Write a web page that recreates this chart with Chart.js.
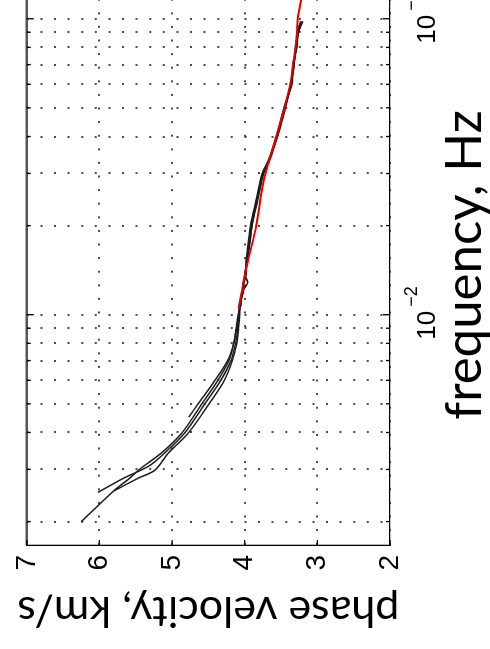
<!DOCTYPE html>
<html>
<head>
<meta charset="utf-8">
<script src="https://cdn.jsdelivr.net/npm/chart.js@4.4.1/dist/chart.umd.min.js"></script>
<style>
  html, body { margin: 0; padding: 0; background: #fff; overflow: hidden; }
  body { width: 490px; height: 649px; position: relative; }
  #wrap {
    position: absolute; left: 0; top: 0;
    width: 674px; height: 490px;
    transform-origin: 0 0;
    transform: translate(0px, 649px) rotate(-90deg);
  }
</style>
</head>
<body>
<div id="wrap"><canvas id="chart-disp" width="674" height="490"></canvas></div>
<script>
// frequency grid (log axis), Hz
const freqTicks = [0.002, 0.003, 0.004, 0.005, 0.006, 0.007, 0.008, 0.009,
  0.01, 0.02, 0.03, 0.04, 0.05, 0.06, 0.07, 0.08, 0.09, 0.1];

// red curve
const redFreq = [0.0105, 0.0119, 0.0132, 0.0154, 0.02, 0.0245, 0.03, 0.0335, 0.04, 0.05, 0.06, 0.07, 0.08, 0.09, 0.1, 0.116, 0.13];
const redVel = [4.085, 4.04, 4.01, 3.95, 3.84, 3.785, 3.715, 3.66, 3.565, 3.455, 3.375, 3.335, 3.3, 3.28, 3.27, 3.225, 3.19];

// black curves
const l1Freq = [0.002, 0.00257, 0.00278, 0.003, 0.00343, 0.004, 0.005, 0.006, 0.007, 0.008, 0.009, 0.01, 0.011, 0.0119, 0.0128, 0.0137, 0.0154, 0.0175, 0.02, 0.0245, 0.03, 0.0335, 0.04, 0.05, 0.06, 0.07, 0.08, 0.09, 0.098];
const l1Vel = [6.25, 5.78, 5.6, 5.45, 5.135, 4.86, 4.59, 4.37, 4.22, 4.15, 4.11, 4.085, 4.06, 4.03, 4.02, 3.99, 3.97, 3.94, 3.91, 3.83, 3.75, 3.66, 3.56, 3.45, 3.36, 3.33, 3.29, 3.27, 3.23];

const l2Freq = [0.00251, 0.0028, 0.00308, 0.00343, 0.004, 0.005, 0.006, 0.007, 0.008, 0.009, 0.01, 0.011, 0.0119, 0.0128, 0.0137, 0.0154, 0.0175, 0.02, 0.0245, 0.03, 0.0335, 0.04, 0.05, 0.06, 0.07, 0.08, 0.09, 0.098];
const l2Vel = [6.02, 5.67, 5.32, 5.09, 4.82, 4.55, 4.33, 4.19, 4.125, 4.098, 4.08, 4.05, 4.04, 3.96, 4.0, 3.96, 3.93, 3.9, 3.82, 3.74, 3.65, 3.55, 3.44, 3.37, 3.32, 3.3, 3.26, 3.2];

const l3Freq = [0.00254, 0.0028, 0.00298, 0.00343, 0.004, 0.005, 0.006, 0.007, 0.008, 0.009, 0.01, 0.011, 0.0119, 0.0128, 0.0137, 0.0154, 0.0175, 0.02, 0.0245, 0.03, 0.0335, 0.04, 0.05, 0.06, 0.07, 0.08, 0.09, 0.095];
const l3Vel = [5.8, 5.47, 5.24, 5.04, 4.77, 4.49, 4.28, 4.17, 4.11, 4.084, 4.07, 4.07, 4.02, 4.01, 3.98, 3.98, 3.95, 3.92, 3.84, 3.76, 3.67, 3.56, 3.46, 3.35, 3.34, 3.28, 3.27, 3.25];

const l4Freq = [0.00451, 0.005, 0.006, 0.007, 0.008, 0.009, 0.01, 0.011, 0.0119, 0.0128, 0.0137, 0.0154, 0.0175, 0.02, 0.0245, 0.03, 0.0335, 0.04, 0.05, 0.06, 0.07, 0.08, 0.09, 0.098];
const l4Vel = [4.77, 4.64, 4.41, 4.235, 4.15, 4.118, 4.09, 4.05, 4.03, 4.02, 3.99, 3.97, 3.93, 3.9, 3.83, 3.74, 3.66, 3.55, 3.45, 3.36, 3.32, 3.29, 3.26, 3.22];

function pts(f, v) {
  return f.map((x, i) => ({ x: x, y: v[i] }));
}

function blackLine(f, v) {
  return {
    data: pts(f, v),
    borderColor: "#1c1c1c",
    borderWidth: 1.5,
    pointRadius: 0,
    showLine: true,
    tension: 0.3,
  };
}

const isDecade = (v) => Math.abs(Math.log10(v) - Math.round(Math.log10(v))) < 1e-9;

// matlab style box: inward ticks, top/right edges, 10^n labels
const boxPlugin = {
  id: "box",
  afterDraw(chart) {
    const { ctx, chartArea: a, scales } = chart;
    const x = scales.x;
    const y = scales.y;
    ctx.save();
    ctx.strokeStyle = "#000";
    ctx.lineWidth = 1.3;
    ctx.beginPath();
    ctx.moveTo(a.right, a.top);
    ctx.lineTo(a.right, a.bottom);
    ctx.stroke();
    ctx.strokeStyle = "#555";
    ctx.lineWidth = 2.6;
    ctx.beginPath();
    ctx.moveTo(a.left, a.top);
    ctx.lineTo(a.right, a.top);
    ctx.stroke();

    ctx.strokeStyle = "#000";
    ctx.lineWidth = 1.3;
    x.ticks.forEach((t) => {
      const px = x.getPixelForValue(t.value);
      const len = isDecade(t.value) ? 7 : 4;
      ctx.beginPath();
      ctx.moveTo(px, a.bottom);
      ctx.lineTo(px, a.bottom - len);
      ctx.moveTo(px, a.top);
      ctx.lineTo(px, a.top + len);
      ctx.stroke();
    });
    y.ticks.forEach((t) => {
      const py = y.getPixelForValue(t.value);
      ctx.beginPath();
      ctx.moveTo(a.left, py);
      ctx.lineTo(a.left + 5, py);
      ctx.moveTo(a.right, py);
      ctx.lineTo(a.right - 5, py);
      ctx.stroke();
    });

    ctx.fillStyle = "#000";
    ctx.textBaseline = "alphabetic";
    ctx.textAlign = "left";
    x.ticks.forEach((t) => {
      if (!isDecade(t.value)) return;
      const px = x.getPixelForValue(t.value);
      const e = Math.round(Math.log10(t.value));
      ctx.font = '26px "Liberation Sans", Arial, sans-serif';
      ctx.fillText("10", px - 25, a.bottom + 45);
      ctx.font = '18px "Liberation Sans", Arial, sans-serif';
      ctx.fillText("\u2212" + Math.abs(e), px + 8, a.bottom + 27);
    });
    ctx.restore();
  },
};

const ctx = document.getElementById("chart-disp");
const chart = new Chart(ctx, {
  type: "scatter",
  data: {
    datasets: [
      {
        data: pts(redFreq, redVel),
        borderColor: "rgb(232,0,0)",
        borderWidth: 2,
        pointRadius: 0,
        showLine: true,
        tension: 0.3,
      },
      blackLine(l1Freq, l1Vel),
      blackLine(l2Freq, l2Vel),
      blackLine(l3Freq, l3Vel),
      blackLine(l4Freq, l4Vel),
    ],
  },
  options: {
    responsive: false,
    animation: false,
    devicePixelRatio: 1,
    layout: { padding: { top: 23, right: 10, bottom: 0, left: 0 } },
    plugins: {
      legend: { display: false },
      tooltip: { enabled: false },
    },
    scales: {
      x: {
        type: "logarithmic",
        position: "bottom",
        min: 1 / 600,
        max: 0.13,
        afterBuildTicks: (scale) => {
          scale.ticks = freqTicks.map((v) => ({ value: v }));
        },
        afterFit: (scale) => {
          scale.height = 100;
        },
        ticks: { display: false },
        grid: {
          color: "rgba(0,0,0,0.7)",
          lineWidth: 2,
          drawTicks: false,
        },
        border: { display: true, color: "#000", width: 1.3, dash: [2, 11.6] },
        title: {
          display: true,
          text: "frequency, Hz",
          color: "#000",
          font: { family: "Lato", size: 51 },
          padding: { top: 0, bottom: -5 },
        },
      },
      y: {
        type: "linear",
        min: 2,
        max: 7,
        afterFit: (scale) => {
          scale.width = 104;
        },
        ticks: {
          stepSize: 1,
          padding: 10,
          color: "#000",
          font: { family: "Liberation Sans", size: 28 },
        },
        grid: {
          color: "rgba(0,0,0,0.7)",
          lineWidth: 2,
          drawTicks: false,
        },
        border: { display: true, color: "#000", width: 1.3, dash: [2, 11.6] },
        title: {
          display: true,
          text: "phase velocity, km/s",
          color: "#000",
          font: { family: "Lato", size: 43 },
          padding: { top: 12, bottom: 0 },
        },
      },
    },
  },
  plugins: [boxPlugin],
});
</script>
</body>
</html>
